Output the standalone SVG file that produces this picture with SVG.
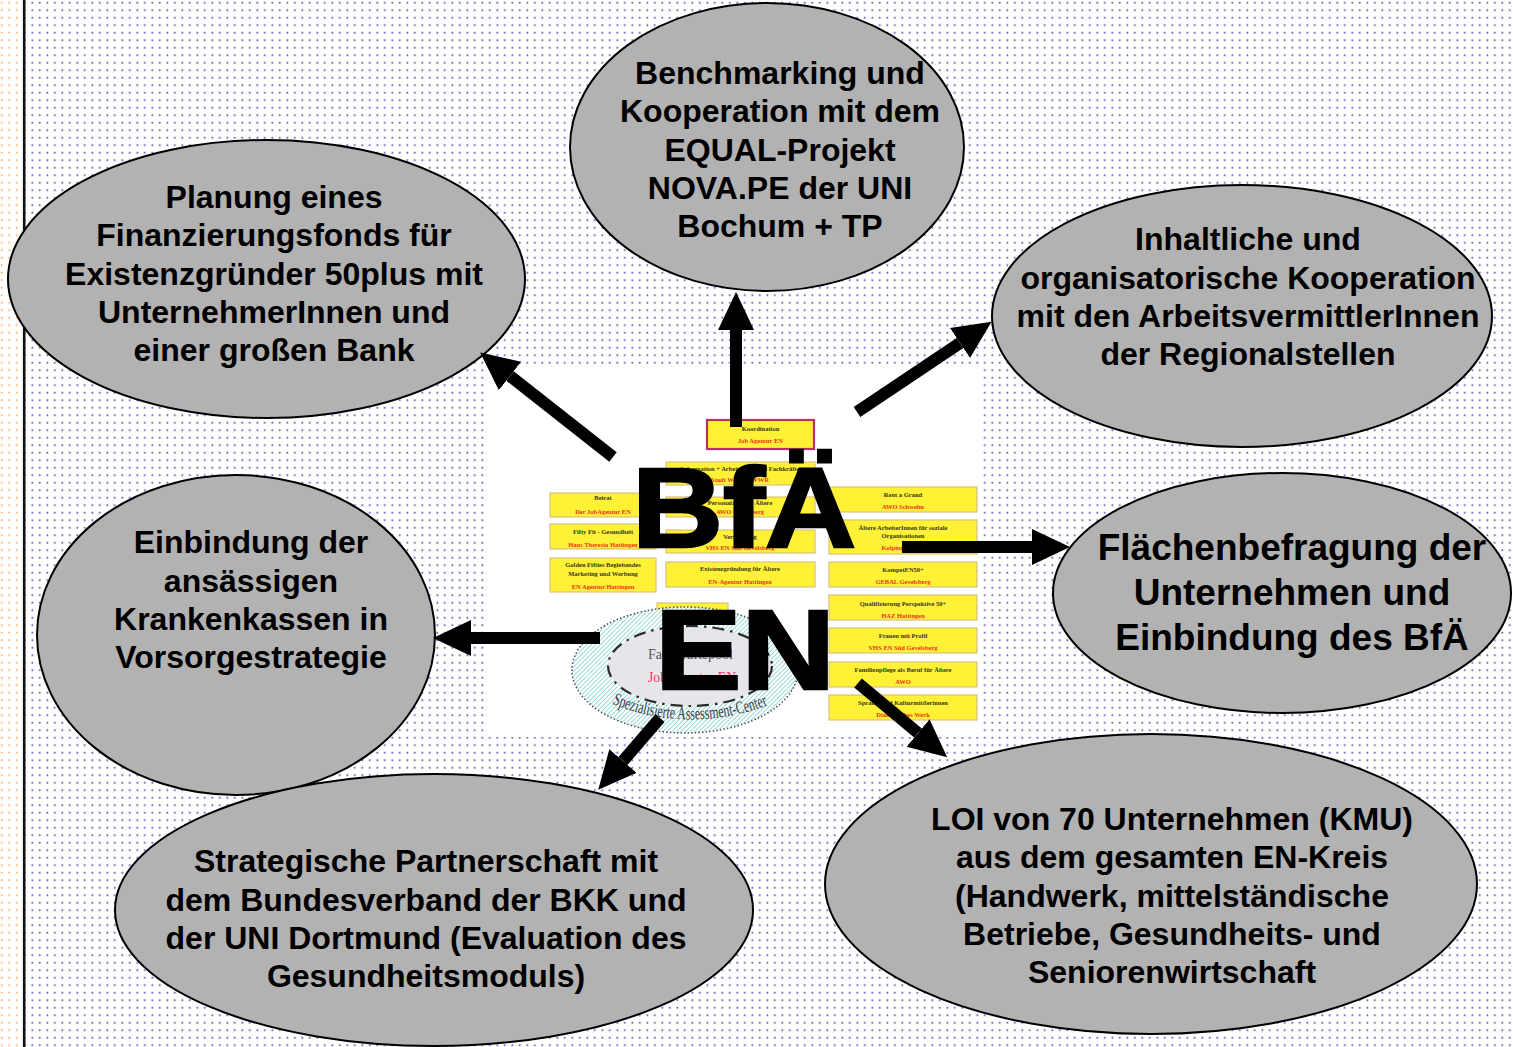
<svg xmlns="http://www.w3.org/2000/svg" width="1513" height="1047" viewBox="0 0 1513 1047">
<style>
.node ellipse{fill:#b2b2b2;stroke:#000;stroke-width:2}
.lbl{font-family:"Liberation Sans",Arial,sans-serif;font-weight:bold;font-size:32px;fill:#000;text-anchor:middle}
.lbl2{font-family:"Liberation Sans",Arial,sans-serif;font-weight:bold;font-size:37px;fill:#000;text-anchor:middle}
.box{fill:#fff236;stroke:#d8c27c;stroke-width:1.2}
.ct{font-family:"Liberation Serif","Times New Roman",serif;font-weight:bold;font-size:6.5px;fill:#3a3520;text-anchor:middle}
.cr{font-family:"Liberation Serif","Times New Roman",serif;font-weight:bold;font-size:6.5px;fill:#ee3322;text-anchor:middle}
.big{font-family:"Liberation Sans",Arial,sans-serif;font-weight:bold;font-size:114px;fill:#000;stroke:#000;stroke-width:2.6;stroke-linejoin:miter}
.arr{stroke:#000;stroke-width:12;fill:none;marker-end:url(#ah)}
</style>
<defs>
<pattern id="bdots" patternUnits="userSpaceOnUse" x="0" y="0" width="7.5" height="7.5">
<circle cx="2.3" cy="2.7" r="0.95" fill="#5c5cb4"/>
</pattern>
<pattern id="odots" patternUnits="userSpaceOnUse" x="0" y="0" width="7.5" height="7.5">
<circle cx="1.7" cy="2.7" r="1" fill="#ffb46a"/>
</pattern>
<pattern id="hatch" patternUnits="userSpaceOnUse" width="3.2" height="3.2" patternTransform="rotate(-45)">
<rect width="3.2" height="3.2" fill="#ffffff"/>
<line x1="0" y1="0" x2="3.2" y2="0" stroke="#6fd2c8" stroke-width="1.4"/>
</pattern>
<marker id="ah" markerUnits="userSpaceOnUse" markerWidth="40" markerHeight="40" viewBox="0 -20 40 40" refX="0" refY="0" orient="auto">
<path d="M0,-18 L38,0 L0,18 Z" fill="#000"/>
</marker>
</defs>

<!-- background -->
<rect x="0" y="0" width="1513" height="1047" fill="#ffffff"/>
<rect x="25" y="0" width="1488" height="1047" fill="url(#bdots)"/>
<rect x="0" y="0" width="23" height="1047" fill="url(#odots)"/>
<line x1="24.2" y1="0" x2="24.2" y2="1047" stroke="#111" stroke-width="2.6"/>

<!-- central hub: organisation chart image -->
<g id="hub">
<rect x="488" y="365" width="495" height="372" fill="#ffffff"/>
<rect x="707" y="420" width="107" height="29" fill="#fff236" stroke="#b8306a" stroke-width="2.2"/>
<text class="ct" x="760.5" y="431">Koordination</text>
<text class="cr" x="760.5" y="443">Job Agentur EN</text>

<rect class="box" x="666" y="462" width="149" height="23"/>
<text class="ct" x="740" y="470.5">Information + Arbeitgeber und Fachkräfte</text>
<text class="cr" x="740" y="482">Stadt Witten / WWR</text>
<rect class="box" x="666" y="497" width="149" height="20"/>
<text class="ct" x="740" y="505">Personalagentur Ältere</text>
<text class="cr" x="740" y="514">AWO Gevelsberg</text>
<rect class="box" x="666" y="530" width="149" height="23"/>
<text class="ct" x="740" y="538.5">Vermittlung</text>
<text class="cr" x="740" y="550">VHS EN Süd Gevelsberg</text>
<rect class="box" x="666" y="562" width="149" height="25"/>
<text class="ct" x="740" y="571">Existenzgründung für Ältere</text>
<text class="cr" x="740" y="583.5">EN-Agentur Hattingen</text>

<rect class="box" x="550" y="493" width="106" height="24"/>
<text class="ct" x="603" y="500">Beirat</text>
<text class="cr" x="603" y="513.5">Der JobAgentur EN</text>
<rect class="box" x="550" y="524" width="106" height="25"/>
<text class="ct" x="603" y="533.5">Fifty Fit - Gesundheit</text>
<text class="cr" x="603" y="546.5">Haus Theresia Hattingen</text>
<rect class="box" x="550" y="558" width="106" height="34"/>
<text class="ct" x="603" y="566.5">Golden Fifties Begleitendes</text>
<text class="ct" x="603" y="575.5">Marketing und Werbung</text>
<text class="cr" x="603" y="588.5">EN Agentur Hattingen</text>

<rect class="box" x="829" y="487" width="148" height="25"/>
<text class="ct" x="903" y="496.5">Rent a Grand</text>
<text class="cr" x="903" y="508.5">AWO Schwelm</text>
<rect class="box" x="829" y="520" width="148" height="34"/>
<text class="ct" x="903" y="529.5">Ältere ArbeiterInnen für soziale</text>
<text class="ct" x="903" y="537.5">Organisationen</text>
<text class="cr" x="903" y="549.5">Kolping Witten</text>
<rect class="box" x="829" y="562" width="148" height="25"/>
<text class="ct" x="903" y="571.5">KompetEN50+</text>
<text class="cr" x="903" y="583.5">GEBAL Gevelsberg</text>
<rect class="box" x="829" y="595" width="148" height="25"/>
<text class="ct" x="903" y="605.5">Qualifizierung Perspektive 50+</text>
<text class="cr" x="903" y="617.5">HAZ Hattingen</text>
<rect class="box" x="829" y="628" width="148" height="25"/>
<text class="ct" x="903" y="637.5">Frauen mit Profil</text>
<text class="cr" x="903" y="649.5">VHS EN Süd Gevelsberg</text>
<rect class="box" x="829" y="662" width="148" height="25"/>
<text class="ct" x="903" y="671.5">Familienpflege als Beruf für Ältere</text>
<text class="cr" x="903" y="683.5">AWO</text>
<rect class="box" x="829" y="695" width="148" height="25"/>
<text class="ct" x="903" y="704.5">Sprach- und Kulturmittlerinnen</text>
<text class="cr" x="903" y="716.5">Diakonisches Werk</text>

<rect class="box" x="657" y="603" width="71" height="25"/>
<ellipse cx="685" cy="670" rx="113" ry="63" fill="url(#hatch)" stroke="#4a4a5a" stroke-width="1.6" stroke-dasharray="1.4 2.2"/>
<ellipse cx="690" cy="666" rx="82" ry="40" fill="#e6e6ea" stroke="#2a2a2a" stroke-width="2.2" stroke-dasharray="12 6 2.5 6"/>
<text x="648" y="659" font-family="'Liberation Serif','Times New Roman',serif" font-size="15" fill="#555" textLength="85" lengthAdjust="spacingAndGlyphs">Fachkräftepool</text>
<text x="648" y="682" font-family="'Liberation Serif','Times New Roman',serif" font-size="14" fill="#ff3366" textLength="88" lengthAdjust="spacingAndGlyphs">Job Agentur EN</text>
<path id="arcpath" d="M 610 703 Q 690 736 774 703" fill="none"/>
<text font-family="'Liberation Serif','Times New Roman',serif" font-size="18" fill="#3a3a4a"><textPath href="#arcpath" startOffset="2" textLength="160" lengthAdjust="spacingAndGlyphs">Spezialisierte Assessment-Center</textPath></text>

<text class="big" x="632" y="547" textLength="224" lengthAdjust="spacingAndGlyphs">BfÄ</text>
<text class="big" x="655" y="689" textLength="180" lengthAdjust="spacingAndGlyphs">EN</text>
</g>

<!-- nodes -->
<g id="n-benchmarking" class="node">
<ellipse cx="767" cy="147" rx="197" ry="144"/>
<text class="lbl" x="780" y="84">Benchmarking und</text>
<text class="lbl" x="780" y="122">Kooperation mit dem</text>
<text class="lbl" x="780" y="161">EQUAL-Projekt</text>
<text class="lbl" x="780" y="199">NOVA.PE der UNI</text>
<text class="lbl" x="780" y="237">Bochum + TP</text>
</g>

<g id="n-planung" class="node">
<ellipse cx="266.5" cy="279" rx="258.5" ry="139"/>
<text class="lbl" x="274" y="208">Planung eines</text>
<text class="lbl" x="274" y="246">Finanzierungsfonds für</text>
<text class="lbl" x="274" y="285">Existenzgründer 50plus mit</text>
<text class="lbl" x="274" y="323">UnternehmerInnen und</text>
<text class="lbl" x="274" y="361">einer großen Bank</text>
</g>

<g id="n-inhaltliche" class="node">
<ellipse cx="1242" cy="316" rx="250" ry="131"/>
<text class="lbl" x="1248" y="250">Inhaltliche und</text>
<text class="lbl" x="1248" y="289">organisatorische Kooperation</text>
<text class="lbl" x="1248" y="327">mit den ArbeitsvermittlerInnen</text>
<text class="lbl" x="1248" y="365">der Regionalstellen</text>
</g>

<g id="n-einbindung" class="node">
<ellipse cx="236" cy="635" rx="199" ry="160"/>
<text class="lbl" x="251" y="553">Einbindung der</text>
<text class="lbl" x="251" y="592">ansässigen</text>
<text class="lbl" x="251" y="630">Krankenkassen in</text>
<text class="lbl" x="251" y="668">Vorsorgestrategie</text>
</g>

<g id="n-flaechen" class="node">
<ellipse cx="1282" cy="593" rx="229" ry="120"/>
<text class="lbl2" x="1292" y="560">Flächenbefragung der</text>
<text class="lbl2" x="1292" y="605">Unternehmen und</text>
<text class="lbl2" x="1292" y="650">Einbindung des BfÄ</text>
</g>

<g id="n-strategische" class="node">
<ellipse cx="434" cy="910" rx="319" ry="136"/>
<text class="lbl" x="426" y="872">Strategische Partnerschaft mit</text>
<text class="lbl" x="426" y="911">dem Bundesverband der BKK und</text>
<text class="lbl" x="426" y="949">der UNI Dortmund (Evaluation des</text>
<text class="lbl" x="426" y="987">Gesundheitsmoduls)</text>
</g>

<g id="n-loi" class="node">
<ellipse cx="1151" cy="884" rx="326" ry="150"/>
<text class="lbl" x="1172" y="830">LOI von 70 Unternehmen (KMU)</text>
<text class="lbl" x="1172" y="868">aus dem gesamten EN-Kreis</text>
<text class="lbl" x="1172" y="907">(Handwerk, mittelständische</text>
<text class="lbl" x="1172" y="945">Betriebe, Gesundheits- und</text>
<text class="lbl" x="1172" y="983">Seniorenwirtschaft</text>
</g>

<!-- connectors -->
<g id="connectors">
<path class="arr" d="M736,427 L736,330"/>
<path class="arr" d="M613,457 L510,376"/>
<path class="arr" d="M857,412 L960,343"/>
<path class="arr" d="M902,547 L1032,547"/>
<path class="arr" d="M600,638 L471,638"/>
<path class="arr" d="M660,718 L623,761"/>
<path class="arr" d="M858,683 L918,733"/>
</g>
</svg>
